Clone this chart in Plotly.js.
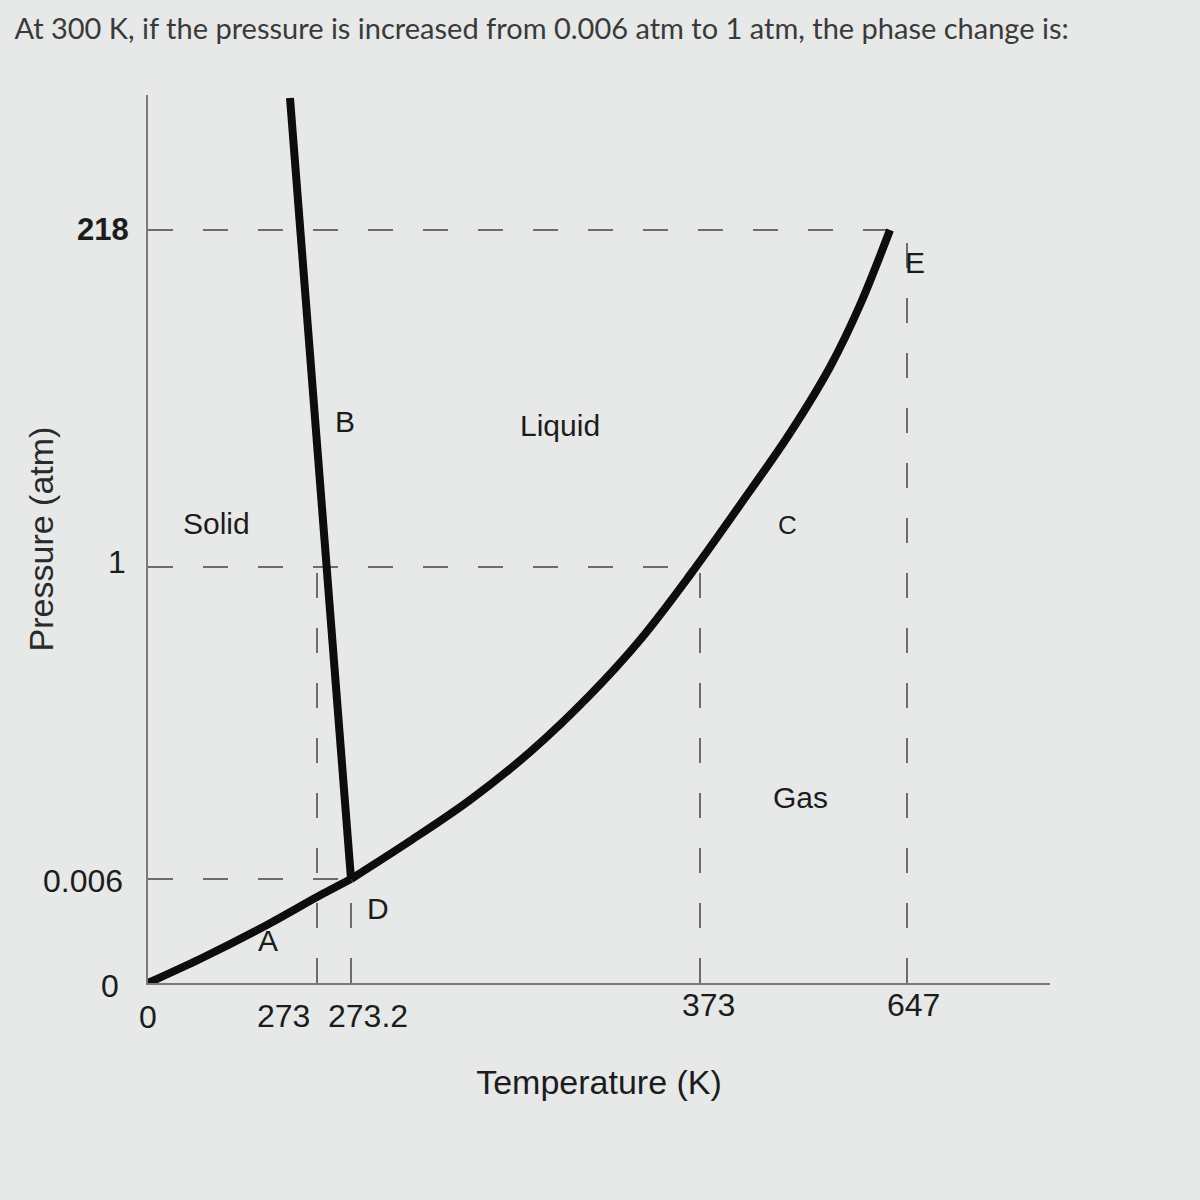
<!DOCTYPE html>
<html>
<head>
<meta charset="utf-8">
<script src="https://cdn.plot.ly/plotly-3.0.1.min.js"></script>
<style>html,body{margin:0;padding:0;background:#e7e8e8;}</style>
</head>
<body>
<div id="chart" style="width:1200px;height:1200px;"></div>
<script>
// Schematic phase diagram (axes not to scale): values are schematic positions along each axis.
const tempLabels = ['0', '273', '273.2', '373', '647'];
const tempPos = [0, 169, 203, 552, 759];
const pressLabels = ['0', '0.006', '1', '218'];
const pressPos = [0, 104, 416, 753];

// Sublimation curve (A): origin -> triple point D
const subX = [0, 52, 117, 169, 203];
const subY = [0, 24, 57, 86, 104];
// Fusion curve (B): triple point -> top
const fusX = [203, 142];
const fusY = [104, 885];
// Vaporization curve (C): triple point -> critical point E
const vapX = [203, 262, 322, 382, 442, 492, 542, 592, 642, 682, 712, 742];
const vapY = [104, 142, 183, 231, 288, 343, 408, 478, 550, 616, 678, 753];

// Region and point labels
const regionLabels = ['Solid', 'Liquid', 'Gas'];
const pointLabels = ['A', 'B', 'C', 'D', 'E'];

const dashColor = '#6c6c6c';
const traces = [];
function dashed(xs, ys) {
  traces.push({x: xs, y: ys, mode: 'lines', line: {color: dashColor, width: 2, dash: '25px,30px'},
               hoverinfo: 'skip', showlegend: false, cliponaxis: false});
}
// Reference lines
dashed([0, tempPos[2]], [pressPos[1], pressPos[1]]);                     // 0.006 atm
dashed([0, tempPos[3]], [pressPos[2], pressPos[2]]);                     // 1 atm
dashed([0, vapX[vapX.length - 1]], [pressPos[3], pressPos[3]]);          // 218 atm
dashed([tempPos[1], tempPos[1]], [0, pressPos[2]]);                      // 273 K
dashed([tempPos[2], tempPos[2]], [0, pressPos[1]]);                      // 273.2 K
dashed([tempPos[3], tempPos[3]], [0, pressPos[2]]);                      // 373 K
dashed([tempPos[4], tempPos[4]], [0, pressPos[3]]);                      // 647 K

const curveLine = {color: '#0d0d0d', width: 8};
traces.push({x: subX, y: subY, mode: 'lines', line: Object.assign({shape: 'spline', smoothing: 0.8}, curveLine), showlegend: false, cliponaxis: false});
traces.push({x: fusX, y: fusY, mode: 'lines', line: curveLine, showlegend: false, cliponaxis: false});
traces.push({x: vapX, y: vapY, mode: 'lines', line: Object.assign({shape: 'spline', smoothing: 1}, curveLine), showlegend: false, cliponaxis: false});

const FAM = 'Liberation Sans, Arial, Helvetica, sans-serif';
const tickFont = {family: FAM, size: 32, color: '#1c1c1c'};
const labFont = {family: FAM, size: 30, color: '#1c1c1c'};
// plot area in pixels: left 148, right 1050, top 95, bottom 983
const PX = px => (px - 148) / 902;
const PY = py => (983 - py) / 888;
const annotations = [];
// x tick labels (placed under their reference lines, split where they crowd)
const xLab = [[148, 'center'], [312, 'right'], [326, 'left'], [708, 'center'], [913, 'center']];
const xLabY = [1017, 1016, 1016, 1005, 1005];
tempLabels.forEach((t, i) => {
  annotations.push({x: PX(xLab[i][0]), y: PY(xLabY[i]), xref: 'paper', yref: 'paper', text: t, showarrow: false,
                    xanchor: xLab[i][1], yanchor: 'middle', font: tickFont});
});
// y tick labels
const yLab = [[121, 986], [125, 881], [128, 562], [131, 230]];
pressLabels.forEach((t, i) => {
  annotations.push({x: PX(yLab[i][0]), y: PY(yLab[i][1]), xref: 'paper', yref: 'paper', text: t, showarrow: false,
                    xanchor: 'right', yanchor: 'middle',
                    font: i === 3 ? {family: FAM, size: 31, color: '#1c1c1c', weight: 'bold'} : tickFont});
});
// region labels
const regionPos = [[216, 523], [560, 425], [800, 797]];
regionLabels.forEach((t, i) => {
  annotations.push({x: PX(regionPos[i][0]), y: PY(regionPos[i][1]), xref: 'paper', yref: 'paper',
                    xanchor: 'center', yanchor: 'middle', text: t, showarrow: false, font: labFont});
});
const pointPos = [[268, 940], [345, 422], [787, 525], [378, 908], [915, 262]];
pointLabels.forEach((t, i) => {
  annotations.push({x: PX(pointPos[i][0]), y: PY(pointPos[i][1]), xref: 'paper', yref: 'paper',
                    xanchor: 'center', yanchor: 'middle', text: t, showarrow: false,
                    font: Object.assign({}, labFont, t === 'C' ? {size: 26} : {})});
});

const layout = {
  width: 1200, height: 1200,
  paper_bgcolor: '#e7e8e8', plot_bgcolor: 'rgba(0,0,0,0)',
  margin: {l: 148, r: 150, t: 95, b: 217},
  showlegend: false,
  title: {text: 'At 300 K, if the pressure is increased from 0.006 atm to 1 atm, the phase change is:',
          x: 0.012, xanchor: 'left', y: 0.976, yanchor: 'middle',
          font: {family: 'Lato, sans-serif', size: 29, color: '#3a3a3a'}},
  xaxis: {range: [0, 902], showgrid: false, zeroline: false, showticklabels: false, ticks: '',
          showline: true, linecolor: '#7a7a7a', linewidth: 2, fixedrange: true,
          title: {text: 'Temperature (K)', standoff: 86, font: {family: FAM, size: 34, color: '#1c1c1c'}},
          automargin: false},
  yaxis: {range: [0, 888], showgrid: false, zeroline: false, showticklabels: false, ticks: '',
          showline: true, linecolor: '#7a7a7a', linewidth: 2, fixedrange: true,
          title: {text: 'Pressure (atm)', standoff: 82, font: {family: FAM, size: 34, color: '#2a2a2a'}},
          automargin: false},
  annotations: annotations
};

Plotly.newPlot('chart', traces, layout, {staticPlot: true, displayModeBar: false});
</script>
</body>
</html>
